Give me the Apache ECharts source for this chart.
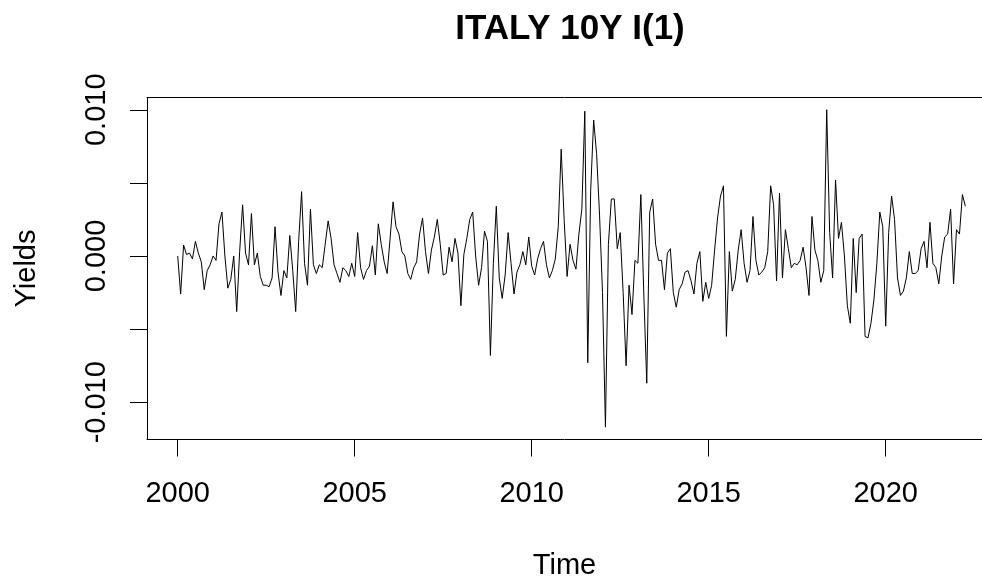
<!DOCTYPE html>
<html>
<head>
<meta charset="utf-8">
<title>ITALY 10Y I(1)</title>
<script src="https://cdn.jsdelivr.net/npm/echarts@6/dist/echarts.min.js"></script>
<style>
  html, body { margin: 0; padding: 0; background: #fff; }
  #chart { width: 982px; height: 581px; }
</style>
</head>
<body>
<div id="chart"></div>
<script>
// monthly first differences of the Italian 10Y yield, starting Jan 2000
const startYear = 2000;
const yields = [
  0.0000, -0.0026, 0.00075, 0.0001, 0.0002, -0.0002, 0.0010, 0.0002, -0.0004, -0.0023,
  -0.0010, -0.0006, 0.0000, -0.0003, 0.0022, 0.0030, 0.0000, -0.0022, -0.0016, 0.0000,
  -0.0038, 0.0003, 0.0035, 0.0002, -0.0006, 0.0029, -0.0006, 0.0002, -0.0014, -0.0020,
  -0.0020, -0.0021,
  -0.0015, 0.0020, -0.0011, -0.0027, -0.0010, -0.0015, 0.0014, -0.0010, -0.0038, 0.0010,
  0.0044, -0.0005, -0.0020, 0.0032, -0.0006, -0.0012, -0.0006, -0.0008, 0.0008, 0.0024,
  0.0012, -0.0006, -0.0012, -0.0018, -0.0008, -0.0010, -0.0014, -0.0005, -0.0014, 0.0016,
  -0.0008, -0.0016, -0.0010, -0.0007, 0.0007,
  -0.0013, 0.0022, 0.0008, -0.0004, -0.0012, 0.0012, 0.0037, 0.0020, 0.0015, 0.0003,
  0.0000, -0.0012, -0.0016, -0.0008, -0.0004, 0.0015, 0.0026, 0.0003, -0.0012, 0.0004,
  0.0013, 0.0025, 0.0008, -0.0013, -0.0012, 0.0006, -0.0004, 0.0012, 0.0002, -0.0034,
  0.0001, 0.0012, 0.0025, 0.0030,
  0.0000, -0.0020, -0.0008, 0.0017, 0.0010, -0.0068, -0.0005, 0.0034, -0.0015, -0.0029,
  -0.0013, 0.0016, -0.0005, -0.0026, -0.0011, -0.0006, 0.0003, -0.0006, 0.0013, -0.0007,
  -0.0013, -0.0002, 0.0005, 0.0010, -0.0006, -0.0015, -0.0010, -0.0002, 0.0020, 0.0073,
  0.0025, -0.0014, 0.0008,
  -0.0003, -0.0009, 0.0015, 0.0032, 0.0099, -0.0073, 0.0045, 0.0093, 0.0070, 0.0028,
  -0.0025, -0.0117, 0.0008, 0.0039, 0.0039, 0.0005, 0.0016, -0.0025, -0.0075, -0.0020,
  -0.0040, -0.0003, -0.0005, 0.0042, -0.0026, -0.0087, 0.0030, 0.0039, 0.0008, -0.0003,
  -0.0003, -0.0023, 0.0002, 0.0005,
  -0.0025, -0.0035, -0.0023, -0.0019, -0.0011, -0.0010, -0.0017, -0.0026, -0.0005, 0.0003,
  -0.0031, -0.0018, -0.0029, -0.0020, 0.0004, 0.0026, 0.0041, 0.0048, -0.0055, 0.0003,
  -0.0024, -0.0016, 0.0004, 0.0018, -0.0005, -0.0018, -0.0010, 0.0027, -0.0003, -0.0013,
  -0.0011, -0.0008, 0.0003,
  0.0048, 0.0035, -0.0017, 0.0043, -0.0015, 0.0018, 0.0005, -0.0008, -0.0005, -0.0006,
  -0.0003, 0.0006, -0.0008, -0.0027, 0.0027, 0.0004, -0.0003, -0.0018, -0.0010, 0.0100,
  0.0016, -0.0015, 0.0052, 0.0012, 0.0023, 0.0000, -0.0034, -0.0046, 0.0012, -0.0025,
  0.0012, 0.0015, -0.0055, -0.0056, -0.0046,
  -0.0030, -0.0005, 0.0030, 0.0020, -0.0048, 0.0016, 0.0041, 0.0025, -0.0015, -0.0027,
  -0.0024, -0.0015, 0.0003, -0.0012, -0.0012, -0.0010, 0.0005, 0.0010, -0.0008, 0.0023,
  -0.0005, -0.0008, -0.0019, 0.0000, 0.0013, 0.0015, 0.0032, -0.0019, 0.0018, 0.0015,
  0.0042, 0.0034
];
const yearTicks = [2000, 2005, 2010, 2015, 2020];
const yieldTicks = [-0.010, -0.005, 0.000, 0.005, 0.010];
const yieldLabels = [-0.010, 0.000, 0.010];

const font = "'Liberation Sans', Arial, sans-serif";
const series = yields.map((v, i) => [startYear + i / 12, v]);

const chart = echarts.init(document.getElementById('chart'), null, { renderer: 'canvas' });
chart.setOption({
  animation: false,
  backgroundColor: '#fff',
  title: {
    text: 'ITALY 10Y I(1)',
    left: 570,
    top: 12,
    padding: 0,
    textAlign: 'center',
    textStyle: { fontFamily: font, fontSize: 35, fontWeight: 'bold', color: '#000' }
  },
  grid: { left: 147, top: 97.5, right: 0, bottom: 141.5, outerBoundsMode: 'none' },
  xAxis: [
    {
      type: 'value',
      min: 1999.133,
      max: 2022.72,
      name: 'Time',
      nameLocation: 'middle',
      nameGap: 112,
      nameTextStyle: { fontFamily: font, fontSize: 29, color: '#000' },
      axisLine: { show: true, onZero: false, lineStyle: { color: '#000', width: 1 } },
      axisTick: { show: true, length: 17, customValues: yearTicks, lineStyle: { color: '#000', width: 1 } },
      axisLabel: {
        customValues: yearTicks,
        margin: 40,
        fontFamily: font, fontSize: 29, color: '#000',
        formatter: v => String(Math.round(v))
      },
      splitLine: { show: false }
    },
    {
      type: 'value',
      position: 'top',
      min: 1999.133,
      max: 2022.72,
      axisLine: { show: true, onZero: false, lineStyle: { color: '#000', width: 1 } },
      axisTick: { show: false },
      axisLabel: { show: false },
      splitLine: { show: false }
    }
  ],
  yAxis: {
    type: 'value',
    min: -0.012548,
    max: 0.010838,
    name: 'Yields',
    nameLocation: 'middle',
    nameGap: 106,
    nameTextStyle: { fontFamily: font, fontSize: 29, color: '#000' },
    axisLine: { show: true, onZero: false, lineStyle: { color: '#000', width: 1 } },
    axisTick: { show: true, length: 17, customValues: yieldTicks, lineStyle: { color: '#000', width: 1 } },
    axisLabel: {
      customValues: yieldLabels,
      rotate: 90,
      margin: 36,
      fontFamily: font, fontSize: 29, color: '#000',
      formatter: v => v.toFixed(3)
    },
    splitLine: { show: false }
  },
  series: [{
    type: 'line',
    data: series,
    showSymbol: false,
    lineStyle: { color: '#000', width: 1 },
    silent: true
  }]
});
</script>
</body>
</html>
